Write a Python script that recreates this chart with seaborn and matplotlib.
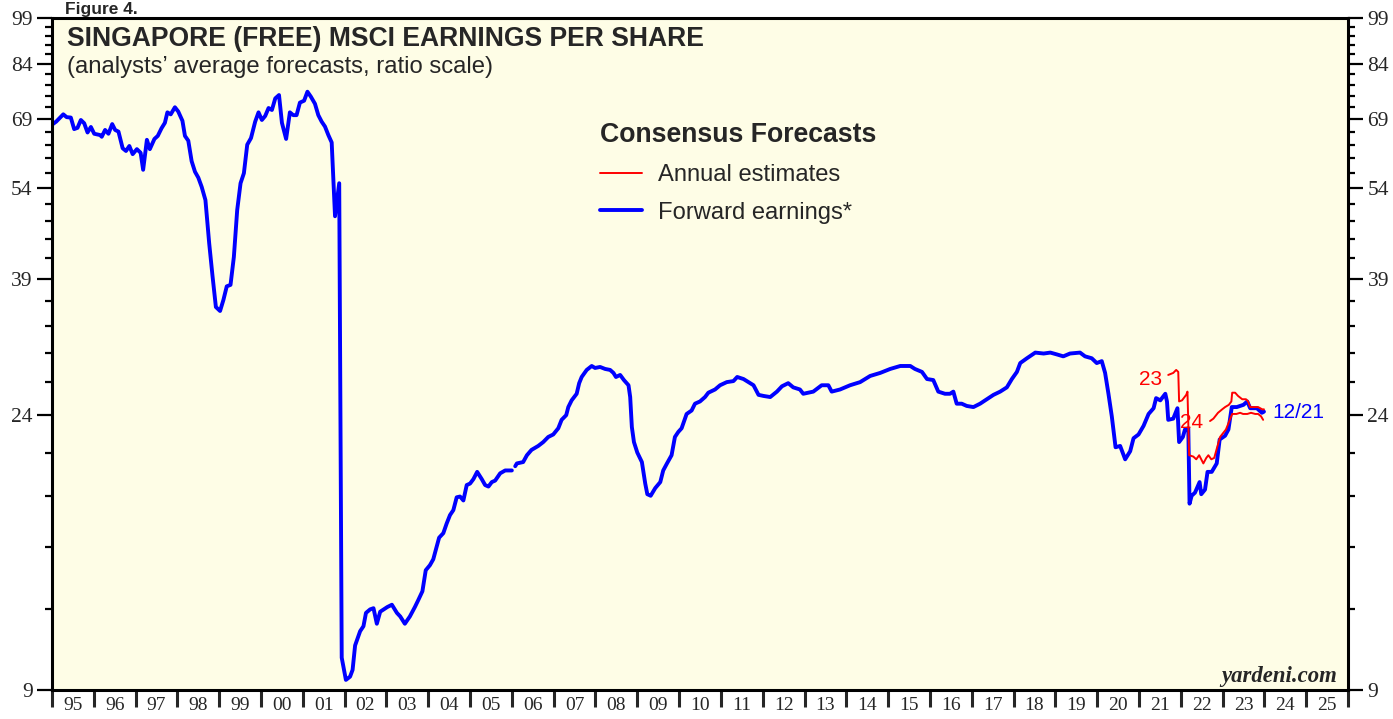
import matplotlib
matplotlib.use("Agg")
import matplotlib.pyplot as plt
import seaborn as sns
import numpy as np
from matplotlib.ticker import NullFormatter

# forward earnings (weekly-ish samples), gap early 2006
fwd_years_a = [
    1995.02, 1995.10, 1995.27, 1995.35, 1995.45, 1995.53, 1995.61, 1995.69, 1995.77, 1995.85,
    1995.93, 1996.01, 1996.15, 1996.19, 1996.27, 1996.35, 1996.44, 1996.51, 1996.59, 1996.69,
    1996.77, 1996.85, 1996.93, 1997.03, 1997.12, 1997.18, 1997.27, 1997.34, 1997.45, 1997.53,
    1997.62, 1997.70, 1997.76, 1997.84, 1997.94, 1998.02, 1998.12, 1998.18, 1998.26, 1998.34,
    1998.42, 1998.50, 1998.58, 1998.67, 1998.76, 1998.84, 1998.92, 1999.02, 1999.10, 1999.18,
    1999.27, 1999.35, 1999.43, 1999.51, 1999.59, 1999.67, 1999.76, 1999.86, 1999.94, 2000.02,
    2000.10, 2000.18, 2000.26, 2000.34, 2000.43, 2000.50, 2000.60, 2000.69, 2000.77, 2000.85,
    2000.93, 2001.03, 2001.11, 2001.19, 2001.29, 2001.37, 2001.45, 2001.53, 2001.61, 2001.69,
    2001.77, 2001.87, 2001.93, 2002.03, 2002.13, 2002.19, 2002.25, 2002.37, 2002.45, 2002.51,
    2002.61, 2002.69, 2002.77, 2002.85, 2003.02, 2003.13, 2003.25, 2003.33, 2003.44, 2003.56,
    2003.68, 2003.76, 2003.86, 2003.94, 2004.04, 2004.12, 2004.20, 2004.26, 2004.36, 2004.44,
    2004.52, 2004.60, 2004.68, 2004.76, 2004.84, 2004.92, 2005.00, 2005.08, 2005.17, 2005.28,
    2005.36, 2005.44, 2005.52, 2005.60, 2005.72, 2005.84, 2006.00,
]
fwd_eps_a = [
    67.8, 68.4, 70.2, 69.5, 69.4, 66.6, 66.9, 68.8, 68.0, 65.8,
    67.1, 65.5, 65.2, 64.8, 66.4, 65.5, 67.8, 66.4, 66.0, 62.2,
    61.6, 62.7, 60.9, 62.0, 61.2, 57.6, 64.1, 62.0, 64.3, 65.0,
    66.8, 68.1, 70.7, 70.2, 72.0, 70.9, 68.6, 65.0, 63.9, 59.4,
    57.2, 56.0, 54.2, 51.7, 44.3, 39.4, 35.3, 34.8, 36.2, 38.0,
    38.2, 42.2, 49.9, 54.9, 56.9, 63.0, 64.5, 68.4, 70.7, 68.8,
    69.8, 71.8, 71.3, 74.3, 75.2, 68.1, 64.3, 70.7, 70.0, 70.0,
    73.2, 73.7, 76.1, 74.8, 72.9, 70.0, 68.4, 67.2, 65.2, 63.5,
    48.8, 54.9, 10.1, 9.33, 9.44, 9.67, 10.55, 11.1, 11.3, 11.85,
    12.0, 12.05, 11.4, 11.9, 12.1, 12.2, 11.85, 11.7, 11.4, 11.7,
    12.1, 12.4, 12.8, 13.8, 14.05, 14.35, 15.0, 15.5, 15.75, 16.3,
    16.8, 17.1, 17.9, 17.95, 17.7, 18.7, 18.8, 19.1, 19.6, 19.1,
    18.7, 18.6, 18.9, 19.0, 19.5, 19.7, 19.7,
]
fwd_years_b = [
    2006.08, 2006.12, 2006.27, 2006.36, 2006.47, 2006.63, 2006.75, 2006.87, 2006.99, 2007.11,
    2007.19, 2007.30, 2007.35, 2007.43, 2007.55, 2007.61, 2007.67, 2007.79, 2007.91, 2007.99,
    2008.11, 2008.23, 2008.35, 2008.43, 2008.49, 2008.59, 2008.68, 2008.79, 2008.83, 2008.87,
    2008.92, 2009.00, 2009.11, 2009.19, 2009.24, 2009.32, 2009.43, 2009.55, 2009.62, 2009.71,
    2009.82, 2009.90, 2009.98, 2010.06, 2010.18, 2010.30, 2010.38, 2010.50, 2010.62, 2010.70,
    2010.86, 2010.98, 2011.14, 2011.30, 2011.39, 2011.54, 2011.66, 2011.78, 2011.90, 2012.02,
    2012.18, 2012.34, 2012.46, 2012.61, 2012.73, 2012.89, 2012.97, 2013.21, 2013.41, 2013.57,
    2013.65, 2013.85, 2014.09, 2014.33, 2014.57, 2014.81, 2015.05, 2015.29, 2015.53, 2015.64,
    2015.81, 2015.93, 2016.08, 2016.20, 2016.36, 2016.48, 2016.56, 2016.64, 2016.76, 2016.88,
    2017.04, 2017.20, 2017.36, 2017.52, 2017.68, 2017.84, 2017.96, 2018.08, 2018.16, 2018.32,
    2018.52, 2018.72, 2018.88, 2019.04, 2019.19, 2019.35, 2019.59, 2019.71, 2019.87, 2019.99,
    2020.11, 2020.19, 2020.27, 2020.35, 2020.44, 2020.55, 2020.67, 2020.79, 2020.87, 2020.99,
    2021.11, 2021.23, 2021.35, 2021.41, 2021.51, 2021.63, 2021.67, 2021.70, 2021.82, 2021.92,
    2021.96, 2022.05, 2022.10, 2022.18, 2022.21, 2022.26, 2022.34, 2022.45, 2022.49, 2022.58,
    2022.64, 2022.74, 2022.86, 2022.93, 2023.06, 2023.14, 2023.22, 2023.34, 2023.50, 2023.59,
    2023.66, 2023.82, 2023.94, 2023.99,
]
fwd_eps_b = [
    20.0, 20.2, 20.3, 20.8, 21.2, 21.5, 21.8, 22.2, 22.4, 22.9,
    23.6, 24.0, 24.7, 25.3, 25.9, 26.9, 27.5, 28.2, 28.6, 28.4,
    28.5, 28.3, 28.2, 27.9, 27.5, 27.7, 27.2, 26.7, 25.6, 23.0,
    21.8, 21.0, 20.3, 18.8, 18.1, 18.0, 18.5, 18.9, 19.7, 20.2,
    20.8, 22.2, 22.6, 22.9, 24.1, 24.4, 25.0, 25.2, 25.6, 26.0,
    26.3, 26.7, 27.0, 27.1, 27.5, 27.3, 27.0, 26.7, 25.8, 25.7,
    25.6, 26.1, 26.6, 26.9, 26.5, 26.3, 25.9, 26.1, 26.7, 26.7,
    26.1, 26.3, 26.7, 27.0, 27.6, 27.9, 28.3, 28.6, 28.6, 28.3,
    28.0, 27.3, 27.2, 26.1, 25.9, 25.9, 26.1, 25.0, 25.0, 24.8,
    24.7, 25.0, 25.4, 25.8, 26.1, 26.5, 27.3, 28.0, 28.9, 29.4,
    30.0, 29.9, 30.0, 29.8, 29.6, 29.9, 30.0, 29.6, 29.4, 28.9,
    29.1, 27.9, 25.9, 23.9, 21.4, 21.5, 20.5, 21.1, 22.1, 22.4,
    23.1, 24.1, 24.6, 25.5, 25.3, 25.9, 25.2, 23.6, 23.7, 24.6,
    21.8, 22.2, 22.8, 22.9, 17.5, 18.0, 18.2, 18.9, 18.1, 18.4,
    19.6, 19.6, 20.2, 22.0, 22.3, 22.8, 24.7, 24.7, 24.9, 25.2,
    24.6, 24.6, 24.2, 24.3,
]

# annual estimates for 2023 and 2024
est23_years = [
    2021.70, 2021.82, 2021.89, 2021.94, 2021.96, 2022.03, 2022.13, 2022.16, 2022.20, 2022.30,
    2022.37, 2022.44, 2022.54, 2022.61, 2022.66, 2022.73, 2022.80, 2022.87, 2022.94, 2023.01,
    2023.08, 2023.15, 2023.23, 2023.33, 2023.42, 2023.49, 2023.59, 2023.68, 2023.78, 2023.85,
    2023.92, 2023.97,
]
est23_eps = [
    27.7, 27.9, 28.2, 28.0, 25.2, 25.3, 25.8, 26.1, 20.8, 20.7,
    20.5, 20.8, 20.2, 20.6, 20.8, 20.5, 20.6, 21.4, 22.2, 22.5,
    22.8, 23.4, 24.1, 24.1, 24.2, 24.1, 24.1, 24.2, 24.1, 24.1,
    23.9, 23.6,
]
est24_years = [
    2022.70, 2022.78, 2022.89, 2022.99, 2023.06, 2023.15, 2023.21, 2023.23, 2023.30, 2023.37,
    2023.47, 2023.56, 2023.61, 2023.66, 2023.76, 2023.85, 2023.95, 2023.99,
]
est24_eps = [
    23.5, 23.7, 24.2, 24.5, 24.7, 24.9, 25.2, 26.0, 26.0, 25.7,
    25.4, 25.4, 25.2, 24.7, 24.7, 24.7, 24.5, 24.5,
]

y_major = [9, 24, 39, 54, 69, 84, 99]
y_minor = [v for v in range(12, 99, 3) if v not in y_major]
year_ticks = list(range(1995, 2027))
year_labels = ['95', '96', '97', '98', '99', '00', '01', '02', '03', '04', '05',
               '06', '07', '08', '09', '10', '11', '12', '13', '14', '15', '16',
               '17', '18', '19', '20', '21', '22', '23', '24', '25']

sns.set_style("ticks")
plt.rcParams['font.family'] = ['Liberation Sans', 'DejaVu Sans']

fig = plt.figure(figsize=(13.93, 7.19), dpi=100)
ax = fig.add_axes([52 / 1393, 29 / 719, 1296 / 1393, 672 / 719])
ax.set_facecolor('#FEFDE6')

sns.lineplot(x=fwd_years_a, y=fwd_eps_a, ax=ax, color='#0000FF', linewidth=2.8,
             label='Forward earnings*', estimator=None, sort=False)
sns.lineplot(x=fwd_years_b, y=fwd_eps_b, ax=ax, color='#0000FF', linewidth=2.8,
             estimator=None, sort=False)
sns.lineplot(x=est23_years, y=est23_eps, ax=ax, color='#FF0000', linewidth=1.4,
             label='Annual estimates', estimator=None, sort=False)
sns.lineplot(x=est24_years, y=est24_eps, ax=ax, color='#FF0000', linewidth=1.4,
             estimator=None, sort=False)

ax.set_yscale('log')
ax.set_ylim(9, 99)
ax.set_xlim(1995, 2026)
ax.set_xlabel('')
ax.set_ylabel('')

ax.set_yticks(y_major, labels=[str(v) for v in y_major])
ax.set_yticks(y_minor, minor=True)
ax.yaxis.set_minor_formatter(NullFormatter())
ax.tick_params(axis='y', which='both', left=True, right=True, labelleft=True,
               labelright=True, direction='out', width=1.6, color='black')
ax.tick_params(axis='y', which='major', length=11, pad=3, labelsize=15.5,
               labelfontfamily='Liberation Serif')
ax.tick_params(axis='y', which='minor', length=5)

ax.set_xticks(year_ticks, labels=[''] * len(year_ticks))
ax.set_xticks(np.arange(1995.5, 2026, 1.0), labels=year_labels, minor=True)
ax.tick_params(axis='x', which='major', length=12, width=2.2, direction='out')
ax.tick_params(axis='x', which='minor', length=0, pad=5, labelsize=14,
               labelfontfamily='Liberation Serif')

for s in ax.spines.values():
    s.set_linewidth(2.2)
    s.set_color('black')

# titles
ax.text(0.0116, 0.958, 'SINGAPORE (FREE) MSCI EARNINGS PER SHARE', transform=ax.transAxes,
        fontsize=19.1, fontweight='bold', va='baseline', ha='left')
ax.text(0.0116, 0.918, '(analysts\u2019 average forecasts, ratio scale)', transform=ax.transAxes,
        fontsize=17.2, va='baseline', ha='left')
ax.text(0.9915, 0.012, 'yardeni.com', transform=ax.transAxes, ha='right', va='baseline',
        fontfamily='Liberation Serif', fontweight='bold', fontstyle='italic', fontsize=16.4)
fig.text(65 / 1393, 1 - 14 / 719, 'Figure 4.', fontweight='bold', fontsize=12.5, va='baseline')

# series labels
ax.text(2021.27, 27.3, '23', color='#FF0000', ha='center', va='center', fontsize=15)
ax.text(2022.25, 23.4, '24', color='#FF0000', ha='center', va='center', fontsize=15)
ax.text(2024.19, 24.2, '12/21', color='#0000FF', ha='left', va='center', fontsize=15)

handles, labels = ax.get_legend_handles_labels()
order = [labels.index('Annual estimates'), labels.index('Forward earnings*')]
ax.legend([handles[i] for i in order], [labels[i] for i in order],
          title='Consensus Forecasts', loc='upper left', bbox_to_anchor=(0.4228, 0.8446),
          frameon=False, alignment='left', fontsize=17.1,
          title_fontproperties={'weight': 'bold', 'size': 19.2},
          handlelength=1.77, handletextpad=0.67, labelspacing=0.66,
          borderpad=0, borderaxespad=0)

fig.savefig('out.png', dpi=100)
